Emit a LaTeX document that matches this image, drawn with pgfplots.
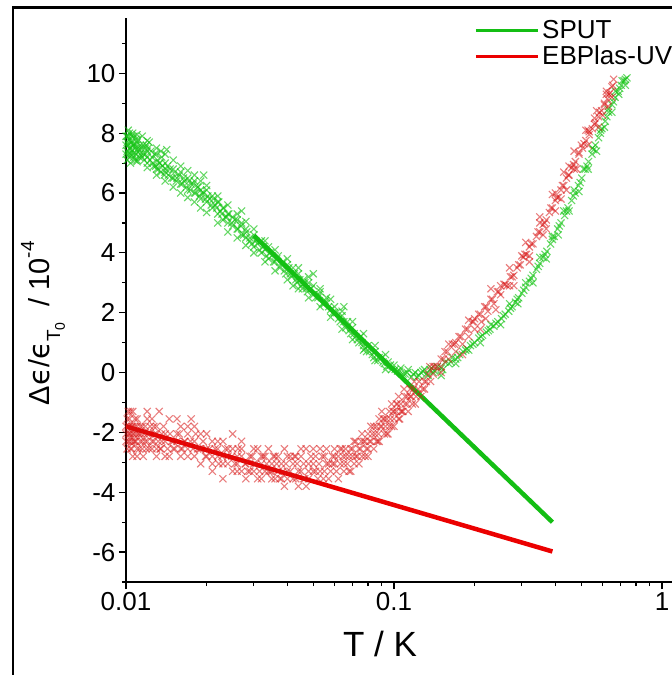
\documentclass[border=0pt]{standalone}
\usepackage{fontspec}
\setmainfont{Liberation Sans}
\newfontfamily\djv{DejaVu Sans}
\usepackage{pgfplots}
\pgfplotsset{compat=1.18}
\definecolor{gline}{RGB}{20,190,20}
\definecolor{rline}{RGB}{235,0,0}
\definecolor{gmark}{RGB}{20,195,20}
\definecolor{rmark}{RGB}{215,20,20}
\begin{document}
\begin{tikzpicture}
\useasboundingbox (-126pt,-93pt) rectangle (546pt,582pt);
\clip (-126pt,-93pt) rectangle (546pt,582pt);
\begin{axis}[
  scale only axis, width=616.68pt, height=564pt,
  xmode=log, xmin=0.01, xmax=2, ymin=-7, ymax=11.85,
  axis x line=bottom, axis y line=left,
  axis line style={-, line width=1.4pt},
  xtick={0.01,0.1,1}, xticklabels={0.01,0.1,1},
  ytick={-6,-4,...,10}, minor ytick={-7,-5,...,11},
  tick align=outside, major tick length=7pt, minor tick length=4pt,
  every tick/.style={black, line width=1.2pt},
  tick label style={font=\fontsize{26}{30}\selectfont},
  /pgf/number format/assume math mode=true,
  xlabel={T / K},
  xlabel style={font=\fontsize{35}{38}\selectfont, at={(axis description cs:0.4119,-0.1108)}, anchor=center},
  ylabel={Δ{\djv ϵ}/{\djv ϵ}\raisebox{-0.35em}{\fontsize{19}{19}\selectfont T\raisebox{-0.25em}{\fontsize{14}{14}\selectfont 0}}\ \ /\ 10\raisebox{0.55em}{\fontsize{19}{19}\selectfont -4}},
  ylabel style={font=\fontsize{29}{32}\selectfont, at={(axis description cs:-0.1346,0.459)}, anchor=center},
  legend style={draw=none, fill=none, at={(axis description cs:0.5594,1.004)}, anchor=north west,
    font=\fontsize{26}{30}\selectfont, row sep=1pt, nodes={inner sep=2.5pt}},
  legend cell align=left,
  legend image code/.code={\draw[#1, line width=3.5pt] (0pt,0pt) -- (62pt,0pt);},
  gm/.style={only marks, mark=x, mark size=5pt, color=gmark, mark options={line width=1.1pt, opacity=0.65}, forget plot},
  rm/.style={only marks, mark=x, mark size=5pt, color=rmark, mark options={line width=1.1pt, opacity=0.55}, forget plot},
]
\addplot[gm] table[row sep=\\] {
x y\\
0.0101 7.9\\ 0.0101 7.4\\ 0.0102 8.1\\ 0.0102 7.6\\ 0.0103 7.2\\ 0.0103 7.8\\ 0.0104 7.5\\ 0.0104 7.0\\
0.0105 7.7\\ 0.0106 7.3\\ 0.0106 8.0\\ 0.0107 7.6\\ 0.0108 7.1\\ 0.0109 7.8\\ 0.011 7.4\\ 0.011 7.7\\
0.0112 7.2\\ 0.0113 7.6\\ 0.0115 7.9\\ 0.0116 7.3\\ 0.0118 7.5\\ 0.012 7.0\\ 0.012 7.4\\ 0.0122 7.7\\
0.0125 7.2\\ 0.0127 6.9\\ 0.013 7.3\\ 0.013 6.8\\ 0.0133 7.0\\ 0.0136 7.2\\ 0.014 6.7\\ 0.014 7.0\\
0.0143 6.9\\ 0.0142 7.45\\ 0.015 6.5\\ 0.015 6.8\\ 0.0155 6.5\\ 0.016 6.3\\ 0.016 6.7\\ 0.0165 6.4\\
0.017 6.1\\ 0.017 6.5\\ 0.0175 6.3\\ 0.018 6.0\\ 0.018 6.4\\ 0.0185 6.2\\ 0.019 5.8\\ 0.019 6.1\\
0.0195 6.0\\ 0.02 5.7\\ 0.02 6.1\\ 0.0205 5.8\\ 0.021 5.5\\ 0.021 5.9\\ 0.0215 5.6\\ 0.022 5.3\\
0.022 5.7\\ 0.0225 5.4\\ 0.023 5.1\\ 0.023 5.5\\ 0.0235 5.2\\ 0.024 5.0\\ 0.024 5.3\\ 0.025 4.9\\
0.025 5.2\\ 0.026 4.8\\ 0.026 5.1\\ 0.027 4.6\\ 0.027 5.0\\ 0.028 4.5\\ 0.028 4.8\\ 0.029 4.4\\
0.03 4.2\\ 0.03 4.6\\ 0.031 4.3\\ 0.032 4.0\\ 0.032 4.4\\ 0.033 4.1\\ 0.034 3.8\\ 0.034 4.2\\
0.035 3.9\\ 0.036 3.7\\ 0.037 3.9\\ 0.038 3.6\\ 0.039 3.4\\ 0.04 3.6\\ 0.041 3.3\\ 0.042 3.5\\
0.043 3.1\\ 0.044 3.3\\ 0.045 2.9\\ 0.046 3.1\\ 0.047 2.8\\ 0.048 3.0\\ 0.05 2.6\\ 0.05 2.9\\
0.052 2.5\\ 0.053 2.7\\ 0.055 2.3\\ 0.056 2.5\\ 0.058 2.1\\ 0.06 2.0\\ 0.06 2.2\\ 0.062 1.8\\
0.064 1.9\\ 0.066 1.5\\ 0.067 1.7\\ 0.069 1.3\\ 0.07 1.5\\ 0.072 1.2\\ 0.074 1.0\\ 0.075 1.2\\
0.077 0.9\\ 0.079 0.7\\ 0.08 0.9\\ 0.083 0.6\\ 0.085 0.7\\ 0.087 0.4\\ 0.09 0.5\\ 0.092 0.3\\
0.095 0.35\\ 0.098 0.1\\ 0.1 0.25\\ 0.103 0.05\\ 0.106 0.15\\ 0.11 -0.05\\ 0.113 0.1\\ 0.116 -0.15\\
0.12 0.0\\ 0.124 -0.1\\ 0.128 0.05\\ 0.132 -0.05\\ 0.136 0.1\\ 0.14 0.0\\ 0.145 0.2\\ 0.15 0.15\\
0.155 0.35\\ 0.16 0.3\\ 0.165 0.5\\ 0.17 0.45\\ 0.176 0.6\\ 0.181 0.7\\ 0.187 0.8\\ 0.193 0.9\\
0.2 1.0\\ 0.207 1.15\\ 0.214 1.25\\ 0.221 1.35\\ 0.228 1.45\\ 0.236 1.55\\ 0.244 1.7\\ 0.252 1.8\\
0.26 1.95\\ 0.268 2.05\\ 0.276 2.2\\ 0.284 2.35\\ 0.292 2.5\\ 0.3 2.65\\ 0.31 2.85\\ 0.32 3.05\\
0.33 3.25\\ 0.34 3.45\\ 0.35 3.65\\ 0.36 3.85\\ 0.372 4.05\\ 0.384 4.3\\ 0.396 4.55\\ 0.408 4.8\\
0.42 5.0\\ 0.433 5.25\\ 0.446 5.5\\ 0.46 5.75\\ 0.474 6.0\\ 0.488 6.25\\ 0.502 6.5\\ 0.517 6.8\\
0.532 7.05\\ 0.548 7.3\\ 0.564 7.6\\ 0.58 7.85\\ 0.597 8.15\\ 0.614 8.4\\ 0.632 8.7\\ 0.65 8.95\\
0.668 9.2\\ 0.686 9.4\\ 0.704 9.6\\ 0.722 9.75\\ 0.74 9.85\\
0.15 -0.1\\ 0.17 0.3\\ 0.19 0.75\\ 0.21 1.0\\ 0.23 1.6\\ 0.25 1.6\\ 0.27 2.3\\ 0.29 2.3\\
0.31 3.0\\ 0.33 3.0\\ 0.35 3.85\\ 0.37 3.8\\ 0.39 4.55\\ 0.41 4.6\\ 0.43 5.4\\ 0.45 5.4\\
0.47 6.1\\ 0.49 6.05\\ 0.51 6.8\\ 0.53 6.8\\ 0.55 7.5\\ 0.57 7.4\\ 0.59 8.1\\ 0.61 8.2\\
0.63 8.8\\ 0.65 8.7\\ 0.67 9.4\\ 0.69 9.3\\ 0.71 9.75\\ 0.73 9.6\\
};
\addplot[gm] table[row sep=\\] {
x y\\
0.0100 7.6\\ 0.0100 7.3\\ 0.0100 7.9\\ 0.0101 7.1\\ 0.0101 7.7\\ 0.0102 7.3\\ 0.0102 7.9\\ 0.0103 7.5\\
0.0103 8.0\\ 0.0104 7.3\\ 0.0104 7.7\\ 0.0105 7.4\\ 0.0105 7.9\\ 0.0106 7.6\\ 0.0107 7.2\\ 0.0107 7.9\\
0.0108 7.5\\ 0.0109 7.3\\ 0.0109 7.6\\ 0.011 7.1\\ 0.0111 7.5\\ 0.0111 7.8\\ 0.0112 7.4\\ 0.0113 7.3\\
0.0114 7.5\\ 0.0115 7.2\\ 0.0116 7.6\\ 0.0117 7.1\\ 0.0118 7.3\\ 0.0119 7.6\\ 0.012 7.2\\ 0.0121 7.5\\
0.0123 7.1\\ 0.0124 7.4\\ 0.0126 7.0\\ 0.0128 7.3\\ 0.0129 6.9\\ 0.0131 7.1\\ 0.0132 6.8\\ 0.0134 7.0\\
0.0135 6.7\\ 0.0137 6.9\\ 0.0139 6.6\\ 0.0141 6.8\\ 0.0144 6.6\\ 0.0146 6.8\\ 0.0148 6.5\\ 0.0152 6.7\\
0.0154 6.4\\ 0.0158 6.6\\ 0.0162 6.3\\ 0.0164 6.5\\ 0.0168 6.2\\ 0.0172 6.4\\ 0.0174 6.1\\ 0.0178 6.3\\
0.0182 6.0\\ 0.0186 6.2\\ 0.0188 5.9\\ 0.0192 6.0\\ 0.0198 5.8\\ 0.0202 5.9\\ 0.0208 5.6\\ 0.0212 5.8\\
0.0218 5.5\\ 0.0222 5.7\\ 0.0228 5.3\\ 0.0232 5.5\\ 0.0238 5.2\\ 0.0242 5.3\\ 0.0248 5.0\\ 0.0255 5.1\\
0.0262 4.8\\ 0.0268 4.9\\ 0.0275 4.6\\ 0.0282 4.7\\ 0.029 4.5\\ 0.0295 4.3\\ 0.0305 4.4\\ 0.0315 4.1\\
0.0325 4.2\\ 0.0335 3.9\\ 0.0345 4.0\\ 0.0355 3.7\\ 0.0365 3.8\\ 0.0375 3.5\\ 0.0385 3.7\\ 0.0395 3.3\\
0.0405 3.5\\ 0.0415 3.2\\ 0.0425 3.3\\ 0.0435 3.0\\ 0.0445 3.1\\ 0.0455 2.8\\ 0.0465 3.0\\ 0.0475 2.7\\
0.049 2.8\\ 0.051 2.5\\ 0.0525 2.6\\ 0.054 2.3\\ 0.0555 2.4\\ 0.057 2.2\\ 0.059 2.0\\ 0.061 2.0\\
0.063 1.7\\ 0.065 1.7\\ 0.068 1.4\\ 0.071 1.3\\ 0.073 1.1\\ 0.076 1.0\\ 0.078 0.8\\ 0.081 0.7\\
0.084 0.5\\ 0.088 0.5\\ 0.091 0.35\\ 0.094 0.2\\ 0.097 0.25\\ 0.101 0.1\\ 0.105 0.05\\ 0.108 -0.05\\
0.112 0.0\\ 0.118 -0.05\\ 0.122 -0.15\\ 0.126 0.0\\ 0.13 0.1\\ 0.134 -0.1\\ 0.138 0.15\\ 0.142 0.05\\
0.152 0.1\\ 0.163 0.35\\ 0.173 0.5\\ 0.185 0.75\\ 0.197 0.95\\ 0.211 1.2\\ 0.225 1.4\\ 0.24 1.65\\
0.256 1.9\\ 0.272 2.15\\ 0.288 2.45\\ 0.305 2.75\\ 0.325 3.15\\ 0.345 3.55\\ 0.366 3.95\\ 0.39 4.45\\
0.414 4.9\\ 0.44 5.4\\ 0.467 5.9\\ 0.495 6.35\\ 0.525 6.9\\ 0.556 7.45\\ 0.589 8.0\\ 0.623 8.55\\
0.659 9.05\\ 0.695 9.5\\ 0.73 9.8\\
};
\addplot[gm] table[row sep=\\] {
x y\\
0.011 7.95\\ 0.011 7.05\\ 0.012 7.75\\ 0.012 6.85\\ 0.013 7.5\\ 0.013 6.6\\ 0.014 7.3\\ 0.014 6.4\\
0.015 7.1\\ 0.015 6.2\\ 0.016 6.9\\ 0.016 6.0\\ 0.017 6.75\\ 0.017 5.85\\ 0.018 6.6\\ 0.018 5.7\\
0.019 6.4\\ 0.019 5.5\\ 0.02 6.25\\ 0.02 5.35\\ 0.022 5.9\\ 0.022 5.0\\ 0.024 5.6\\ 0.024 4.7\\
0.026 5.3\\ 0.026 4.5\\ 0.028 5.05\\ 0.028 4.25\\ 0.03 4.8\\ 0.03 4.0\\ 0.033 4.4\\ 0.033 3.7\\
0.036 4.1\\ 0.036 3.4\\ 0.04 3.8\\ 0.04 3.1\\ 0.044 3.5\\ 0.044 2.8\\ 0.048 3.2\\ 0.048 2.5\\
0.053 2.8\\ 0.053 2.2\\ 0.058 2.45\\ 0.058 1.85\\ 0.064 2.05\\ 0.064 1.45\\ 0.07 1.7\\ 0.07 1.1\\
0.077 1.3\\ 0.077 0.75\\ 0.085 0.9\\ 0.085 0.4\\ 0.093 0.6\\ 0.093 0.1\\
0.0135 7.4\\ 0.0195 6.6\\ 0.027 5.4\\ 0.05 3.3\\ 0.042 2.9\\ 0.065 2.2\\
};
\addplot[rm] table[row sep=\\] {
x y\\
0.0102 -1.3\\ 0.0102 -1.8\\ 0.0102 -2.3\\ 0.0103 -2.05\\ 0.0103 -1.55\\ 0.0104 -2.55\\ 0.0105 -1.8\\ 0.0105 -2.3\\
0.0106 -1.3\\ 0.0107 -2.05\\ 0.0108 -2.3\\ 0.0108 -1.8\\ 0.011 -2.55\\ 0.011 -1.55\\ 0.0112 -2.05\\ 0.0113 -2.3\\
0.0115 -1.8\\ 0.0116 -2.8\\ 0.0118 -2.3\\ 0.012 -2.05\\ 0.012 -1.55\\ 0.0122 -2.55\\ 0.0125 -2.3\\ 0.0127 -1.8\\
0.013 -2.05\\ 0.013 -2.55\\ 0.0133 -1.3\\ 0.0136 -2.3\\ 0.014 -2.05\\ 0.014 -2.8\\ 0.0145 -1.55\\ 0.015 -2.3\\
0.015 -2.55\\ 0.0155 -2.05\\ 0.016 -1.8\\ 0.016 -2.8\\ 0.0165 -2.3\\ 0.017 -2.55\\ 0.017 -2.05\\ 0.0175 -1.55\\
0.018 -2.8\\ 0.018 -2.3\\ 0.0185 -2.55\\ 0.019 -3.05\\ 0.019 -2.05\\ 0.02 -2.55\\ 0.02 -2.8\\ 0.021 -2.3\\
0.021 -3.05\\ 0.022 -2.55\\ 0.022 -2.8\\ 0.023 -3.05\\ 0.023 -2.3\\ 0.024 -2.8\\ 0.025 -3.3\\ 0.025 -2.55\\
0.026 -3.05\\ 0.026 -2.8\\ 0.027 -3.3\\ 0.027 -2.3\\ 0.028 -3.05\\ 0.029 -2.8\\ 0.03 -3.3\\ 0.03 -3.05\\
0.031 -2.55\\ 0.032 -3.55\\ 0.032 -3.05\\ 0.033 -2.8\\ 0.034 -3.3\\ 0.035 -3.05\\ 0.035 -3.55\\ 0.036 -2.8\\
0.037 -3.3\\ 0.038 -3.05\\ 0.039 -3.8\\ 0.04 -3.3\\ 0.04 -2.8\\ 0.042 -3.05\\ 0.043 -3.55\\ 0.044 -3.3\\
0.045 -2.8\\ 0.046 -3.05\\ 0.047 -3.8\\ 0.048 -3.3\\ 0.05 -3.05\\ 0.05 -2.55\\ 0.052 -3.55\\ 0.053 -3.3\\
0.055 -2.8\\ 0.056 -3.05\\ 0.058 -3.3\\ 0.06 -2.8\\ 0.06 -3.05\\ 0.062 -3.55\\ 0.064 -2.55\\ 0.065 -3.05\\
0.066 -2.8\\ 0.068 -3.3\\ 0.07 -2.55\\ 0.07 -2.8\\ 0.072 -2.3\\ 0.074 -3.05\\ 0.075 -2.55\\ 0.077 -2.3\\
0.078 -2.8\\ 0.08 -2.05\\ 0.08 -2.55\\ 0.082 -2.3\\ 0.084 -1.8\\ 0.085 -2.05\\ 0.087 -2.3\\ 0.088 -1.55\\
0.09 -1.8\\ 0.092 -2.05\\ 0.094 -1.55\\ 0.096 -1.3\\ 0.098 -1.8\\ 0.1 -1.55\\ 0.1 -1.3\\ 0.103 -1.05\\
0.105 -1.55\\ 0.107 -1.3\\ 0.11 -0.8\\ 0.11 -1.05\\ 0.113 -1.3\\ 0.116 -0.8\\ 0.118 -0.55\\ 0.12 -1.05\\
0.123 -0.55\\ 0.126 -0.8\\ 0.13 -0.3\\ 0.13 -0.55\\ 0.134 -0.05\\ 0.137 -0.3\\ 0.14 0.2\\ 0.14 -0.05\\
0.145 0.2\\ 0.15 0.45\\ 0.15 0.2\\ 0.155 0.7\\ 0.16 0.45\\ 0.165 0.95\\ 0.17 0.7\\ 0.175 1.2\\
0.18 0.95\\ 0.185 1.45\\ 0.19 1.2\\ 0.196 1.7\\ 0.2 1.45\\ 0.207 1.95\\ 0.212 1.7\\ 0.218 2.2\\
0.224 2.05\\ 0.23 2.45\\ 0.236 2.3\\ 0.243 2.7\\ 0.25 2.6\\ 0.257 2.95\\ 0.264 2.9\\ 0.272 3.2\\
0.28 3.25\\ 0.288 3.5\\ 0.296 3.6\\ 0.304 3.85\\ 0.312 3.95\\ 0.32 4.2\\ 0.33 4.3\\ 0.34 4.55\\
0.35 4.7\\ 0.36 4.95\\ 0.37 5.1\\ 0.38 5.35\\ 0.39 5.5\\ 0.40 5.75\\ 0.41 5.85\\ 0.42 6.1\\
0.43 6.25\\ 0.44 6.5\\ 0.45 6.6\\ 0.46 6.85\\ 0.475 7.05\\ 0.49 7.3\\ 0.505 7.5\\ 0.52 7.75\\
0.535 7.95\\ 0.55 8.15\\ 0.565 8.35\\ 0.58 8.55\\ 0.595 8.75\\ 0.61 8.95\\ 0.625 9.15\\ 0.64 9.35\\
0.655 9.6\\ 0.66 9.8\\
0.15 0.0\\ 0.17 1.0\\ 0.2 1.8\\ 0.22 1.8\\ 0.25 2.9\\ 0.27 2.9\\ 0.3 3.9\\ 0.32 3.9\\
0.35 5.0\\ 0.37 4.8\\ 0.4 6.0\\ 0.42 5.8\\ 0.45 6.9\\ 0.47 6.8\\ 0.5 7.6\\ 0.53 8.1\\
0.56 8.5\\ 0.6 8.6\\ 0.62 9.3\\ 0.65 9.2\\
};
\addplot[rm] table[row sep=\\] {
x y\\
0.0100 -1.8\\ 0.0100 -2.05\\ 0.0100 -2.3\\ 0.0101 -1.55\\ 0.0101 -2.55\\ 0.0102 -2.05\\ 0.0103 -2.3\\ 0.0103 -1.8\\
0.0104 -2.05\\ 0.0104 -1.3\\ 0.0105 -2.55\\ 0.0106 -2.05\\ 0.0106 -1.8\\ 0.0107 -2.3\\ 0.0108 -1.55\\ 0.0109 -2.05\\
0.0109 -2.3\\ 0.011 -1.8\\ 0.0111 -2.05\\ 0.0112 -2.55\\ 0.0113 -1.8\\ 0.0114 -2.05\\ 0.0115 -2.3\\ 0.0117 -2.05\\
0.0118 -1.8\\ 0.0119 -2.55\\ 0.012 -2.3\\ 0.0122 -2.05\\ 0.0123 -1.8\\ 0.0125 -2.55\\ 0.0127 -2.3\\ 0.0128 -2.05\\
0.013 -1.8\\ 0.0132 -2.3\\ 0.0134 -2.55\\ 0.0136 -2.05\\ 0.0138 -1.8\\ 0.014 -2.3\\ 0.0143 -2.55\\ 0.0146 -2.05\\
0.0148 -2.3\\ 0.0152 -2.55\\ 0.0155 -2.3\\ 0.0158 -2.05\\ 0.0162 -2.55\\ 0.0166 -2.3\\ 0.017 -2.8\\ 0.0174 -2.3\\
0.0178 -2.55\\ 0.0182 -2.05\\ 0.0188 -2.55\\ 0.0194 -2.3\\ 0.0198 -2.8\\ 0.0205 -2.55\\ 0.021 -2.8\\ 0.0215 -2.55\\
0.0222 -3.05\\ 0.0228 -2.8\\ 0.0235 -2.55\\ 0.024 -3.05\\ 0.0248 -2.8\\ 0.0255 -3.05\\ 0.0262 -2.55\\ 0.027 -2.8\\
0.0278 -3.05\\ 0.0285 -3.3\\ 0.0295 -2.8\\ 0.0305 -3.05\\ 0.0315 -3.3\\ 0.0325 -2.8\\ 0.0335 -3.05\\ 0.0345 -3.3\\
0.0355 -2.8\\ 0.0365 -3.05\\ 0.0375 -3.55\\ 0.0385 -3.3\\ 0.0395 -3.05\\ 0.041 -3.3\\ 0.0425 -2.8\\ 0.0435 -3.05\\
0.045 -3.3\\ 0.0465 -3.55\\ 0.048 -3.05\\ 0.049 -2.8\\ 0.051 -3.3\\ 0.0525 -3.05\\ 0.054 -2.8\\ 0.0545 -3.55\\
0.057 -3.05\\ 0.059 -2.8\\ 0.061 -3.3\\ 0.063 -3.05\\ 0.0645 -2.8\\ 0.067 -3.05\\ 0.069 -2.55\\ 0.071 -3.05\\
0.073 -2.8\\ 0.0755 -2.3\\ 0.076 -2.8\\ 0.079 -2.55\\ 0.081 -2.3\\ 0.083 -2.05\\ 0.086 -2.3\\ 0.0875 -2.05\\
0.089 -1.8\\ 0.091 -1.55\\ 0.093 -1.8\\ 0.095 -2.05\\ 0.097 -1.55\\ 0.099 -1.3\\ 0.102 -1.3\\ 0.104 -1.55\\
0.106 -1.05\\ 0.108 -1.3\\ 0.112 -1.05\\ 0.115 -0.8\\ 0.117 -1.05\\ 0.121 -0.8\\ 0.124 -0.3\\ 0.128 -0.55\\
0.132 -0.3\\ 0.136 0.2\\ 0.142 0.2\\
0.153 0.45\\ 0.158 0.7\\ 0.168 0.95\\ 0.178 1.2\\ 0.188 1.45\\ 0.198 1.7\\ 0.21 1.95\\ 0.221 2.2\\
0.233 2.45\\ 0.246 2.7\\ 0.26 2.95\\ 0.276 3.2\\ 0.292 3.6\\ 0.308 3.95\\ 0.325 4.3\\ 0.345 4.7\\
0.365 5.0\\ 0.385 5.5\\ 0.405 5.85\\ 0.425 6.25\\ 0.447 6.6\\ 0.468 6.95\\ 0.49 7.35\\ 0.512 7.65\\
0.535 8.05\\ 0.56 8.3\\ 0.585 8.7\\ 0.61 9.0\\ 0.635 9.3\\ 0.65 9.55\\
};
\addplot[rm] table[row sep=\\] {
x y\\
0.02 -2.05\\ 0.021 -3.3\\ 0.022 -2.3\\ 0.023 -3.55\\ 0.024 -2.55\\ 0.025 -2.05\\ 0.026 -3.3\\ 0.027 -2.55\\
0.028 -3.55\\ 0.029 -3.3\\ 0.03 -2.55\\ 0.031 -3.55\\ 0.032 -2.8\\ 0.033 -3.3\\ 0.034 -2.55\\ 0.035 -3.3\\
0.036 -3.55\\ 0.037 -2.8\\ 0.038 -3.55\\ 0.039 -2.55\\ 0.04 -3.55\\ 0.041 -2.8\\ 0.042 -3.55\\ 0.043 -2.8\\
0.044 -3.8\\ 0.045 -2.55\\ 0.046 -3.55\\ 0.047 -2.55\\ 0.048 -3.55\\ 0.05 -3.3\\ 0.051 -2.8\\ 0.053 -2.55\\
0.055 -3.3\\ 0.056 -2.55\\ 0.057 -3.55\\ 0.059 -3.05\\ 0.06 -2.55\\ 0.062 -2.8\\ 0.063 -2.55\\ 0.065 -3.3\\
0.066 -2.55\\ 0.068 -2.8\\ 0.069 -3.3\\ 0.071 -2.3\\ 0.072 -2.8\\ 0.074 -2.55\\ 0.076 -2.05\\ 0.078 -2.3\\
0.08 -2.8\\ 0.082 -1.8\\ 0.084 -2.55\\ 0.086 -1.8\\ 0.088 -2.3\\ 0.09 -1.3\\ 0.092 -1.55\\ 0.094 -2.05\\
0.096 -1.8\\ 0.098 -1.05\\ 0.1 -1.8\\ 0.102 -1.05\\ 0.104 -0.8\\ 0.106 -1.3\\ 0.109 -0.55\\ 0.112 -0.8\\
0.115 -0.55\\ 0.119 -0.3\\ 0.012 -1.3\\ 0.011 -2.8\\ 0.013 -2.8\\ 0.0125 -1.55\\ 0.0145 -2.8\\ 0.0155 -1.55\\
0.016 -2.55\\ 0.018 -1.8\\ 0.019 -2.55\\ 0.0115 -2.55\\ 0.0135 -2.55\\ 0.017 -1.8\\ 0.0106 -2.8\\
0.16 0.95\\ 0.18 0.6\\ 0.19 1.75\\ 0.21 1.45\\ 0.23 2.8\\ 0.24 2.1\\ 0.27 3.5\\ 0.28 2.9\\
0.31 4.35\\ 0.32 3.7\\ 0.35 5.2\\ 0.36 4.6\\ 0.39 5.95\\ 0.4 5.4\\ 0.43 6.7\\ 0.44 6.1\\
0.47 7.4\\ 0.48 6.8\\ 0.52 8.1\\ 0.53 7.6\\ 0.57 8.75\\ 0.58 8.2\\ 0.62 9.4\\ 0.63 8.9\\
};
\addplot[gline, line width=4.5pt] coordinates {(0.03,4.58) (0.39,-5)};
\addlegendentry{SPUT}
\addplot[rline, line width=4.5pt] coordinates {(0.01,-1.8) (0.39,-5.98)};
\addlegendentry{EBPlas-UV}
\end{axis}
\draw[line width=2.8pt] (-113pt,-120pt) -- (-113pt,574.5pt) -- (700pt,574.5pt);
\end{tikzpicture}
\end{document}
